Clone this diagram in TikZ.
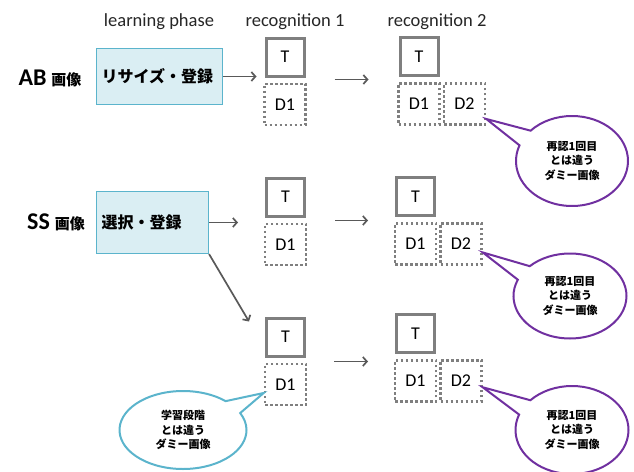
\documentclass[tikz,border=0pt]{standalone}
\usepackage{fontspec}
\setmainfont{Carlito}
\newfontfamily\cjk{Noto Sans CJK JP}
\usetikzlibrary{arrows.meta,positioning,calc,shapes.callouts}
\definecolor{boxfill}{HTML}{DAEEF3}
\definecolor{boxline}{HTML}{5BB4CC}
\definecolor{callpurple}{HTML}{7030A0}
\definecolor{tgray}{HTML}{7F7F7F}
\definecolor{argray}{HTML}{595959}
\tikzset{
  phase/.style={font=\fontsize{18.5}{19}\selectfont, text=black!85},
  imglabel/.style={anchor=center},
  regbox/.style={draw=boxline, fill=boxfill, line width=1.2pt, inner xsep=5pt,
    align=left, font=\cjk\bfseries\fontsize{16}{16}\selectfont},
  tbox/.style={draw=tgray, line width=3pt, minimum size=38pt, inner sep=0pt,
    font=\fontsize{18}{18}\selectfont},
  dbox/.style={draw=tgray, line width=2.5pt, dash pattern=on 2.5pt off 2.5pt,
    minimum width=41pt, minimum height=41pt, inner sep=0pt,
    font=\fontsize{18}{18}\selectfont},
  arr/.style={draw=argray, line width=1.7pt, -{Straight Barb[length=4pt,width=9pt]}},
  dummy/.style={ellipse callout, draw=#1, fill=white, line width=2pt,
    callout pointer arc=22, align=center,
    font=\cjk\bfseries\fontsize{11}{14.5}\selectfont},
}
\newcommand{\imgname}[1]{{\fontsize{24}{24}\selectfont\bfseries #1}\hspace{5pt}{\cjk\bfseries\fontsize{15}{15}\selectfont 画像}}
\begin{document}
\begin{tikzpicture}[x=1pt,y=-1pt]
  \useasboundingbox (0,0) rectangle (634,471);
  % column headings
  \node[phase] (hlearn) at (159,22) {learning phase};
  \node[phase] (hrec1) at (295,22) {recognition 1};
  \node[phase] (hrec2) at (437,22) {recognition 2};
  % image types
  \node[imglabel] (ablabel) at (50,78) {\imgname{AB}};
  \node[imglabel] (sslabel) at (56,222) {\imgname{SS}};
  \node[regbox, text width=116pt, minimum height=56pt] (abbox) at (159.5,76.5) {リサイズ・登録};
  \node[regbox, text width=102pt, minimum height=62pt] (ssbox) at (152.5,222.5) {選択・登録};
  % row AB
  \node[tbox] (tA1) at (285,57) {T};
  \node[dbox, below=5pt of tA1] (dA1) {D1};
  \node[tbox] (tA2) at (419,56.5) {T};
  \node[dbox, below=5pt of tA2] (dA2) {D1};
  \node[dbox, right=2pt of dA2] (eA2) {D2};
  % row SS
  \node[tbox] (tB1) at (285.5,197) {T};
  \node[dbox, below=5pt of tB1] (dB1) {D1};
  \node[tbox] (tB2) at (415.5,196.5) {T};
  \node[dbox, below=5pt of tB2] (dB2) {D1};
  \node[dbox, right=2pt of dB2] (eB2) {D2};
  % row SS, second branch
  \node[tbox] (tC1) at (285.5,337) {T};
  \node[dbox, below=5pt of tC1] (dC1) {D1};
  \node[tbox] (tC2) at (415.5,333.5) {T};
  \node[dbox, below=5pt of tC2] (dC2) {D1};
  \node[dbox, right=2pt of dC2] (eC2) {D2};
  % arrows
  \draw[arr, shorten >=8pt] (abbox.east) -- (abbox.east -| tA1.west);
  \draw[arr, shorten >=27pt] (ssbox.east) -- (ssbox.east -| tB1.west);
  \draw[arr] (ssbox.south east) -- ($(tC1.north west)+(-16,5)$);
  \draw[arr, shorten <=29pt, shorten >=30pt] ($(tA1.south east)+(0,2)$) -- ($(tA1.south east -| tA2.west)+(0,2)$);
  \draw[arr, shorten <=29pt, shorten >=27pt] ($(tB1.south east)+(0,3)$) -- ($(tB1.south east -| tB2.west)+(0,3)$);
  \draw[arr, shorten <=28pt, shorten >=27pt] ($(tC1.south east)+(0,4)$) -- ($(tC1.south east -| tC2.west)+(0,4)$);
  % callouts
  \node[dummy=callpurple, minimum width=112pt, minimum height=90pt,
    callout absolute pointer={($(eA2.east)!0.7!(eA2.south east)$)}] (callA) at (572,161)
    {再認1回目\\とは違う\\ダミー画像};
  \node[dummy=callpurple, minimum width=113pt, minimum height=85pt,
    callout absolute pointer={($(eB2.east)!0.4!(eB2.south east)$)}] (callB) at (570,296)
    {再認1回目\\とは違う\\ダミー画像};
  \node[dummy=callpurple, minimum width=113pt, minimum height=88pt,
    callout absolute pointer={($(eC2.east)!0.3!(eC2.south east)$)}] (callC) at (572,430)
    {再認1回目\\とは違う\\ダミー画像};
  \node[dummy=boxline, minimum width=127pt, minimum height=78pt,
    callout absolute pointer={($(dC1.west)!0.4!(dC1.south west)$)}] (callD) at (183,430)
    {学習段階\\とは違う\\ダミー画像};
\end{tikzpicture}
\end{document}
